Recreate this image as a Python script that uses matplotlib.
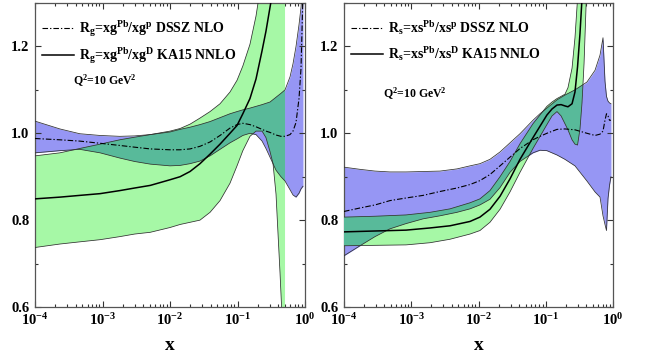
import numpy as np
import matplotlib
matplotlib.use("Agg")
import matplotlib.pyplot as plt
from matplotlib.lines import Line2D
from matplotlib.ticker import LogLocator, MultipleLocator, FormatStrFormatter, FuncFormatter, NullFormatter

# ---- gluon ratio, DSSZ NLO (blue band + dash-dot central) ----
xg_dssz = [1e-4, 2.34e-4, 4.6e-4, 9.2e-4, 1.8e-3, 3.0e-3, 5.1e-3, 0.01, 0.0141, 0.0198,
           0.0278, 0.0392, 0.0551, 0.0774, 0.0984, 0.12, 0.153, 0.188, 0.231, 0.264,
           0.303, 0.372, 0.44, 0.506, 0.6, 0.664, 0.736, 0.815, 0.873, 0.933]
rg_dssz_hi = [1.028, 1.010, 0.999, 0.995, 0.993, 0.994, 0.997, 1.003, 1.009, 1.014,
              1.020, 1.027, 1.036, 1.045, 1.050, 1.054, 1.058, 1.062, 1.066, 1.069,
              1.072, 1.083, 1.092, 1.100, 1.130, 1.160, 1.200, 1.250, 1.290, 1.360]
rg_dssz_lo = [0.955, 0.960, 0.963, 0.955, 0.943, 0.935, 0.929, 0.925, 0.926, 0.930,
              0.936, 0.948, 0.963, 0.978, 0.987, 0.995, 1.000, 0.997, 0.982, 0.965,
              0.945, 0.915, 0.900, 0.890, 0.870, 0.858, 0.853, 0.862, 0.872, 0.878]
rg_dssz = [0.988, 0.985, 0.982, 0.977, 0.972, 0.968, 0.964, 0.962, 0.962, 0.964,
           0.970, 0.980, 0.995, 1.012, 1.020, 1.023, 1.020, 1.015, 1.009, 1.005,
           1.002, 0.996, 0.993, 0.993, 0.997, 1.005, 1.025, 1.080, 1.150, 1.320]

# ---- gluon ratio, KA15 NNLO (green band + solid central) ----
xg_ka15 = [1e-4, 2.34e-4, 4.6e-4, 9.2e-4, 1.8e-3, 3.0e-3, 5.1e-3, 0.01, 0.0141, 0.0198,
           0.0278, 0.0392, 0.0551, 0.0774, 0.0984, 0.12, 0.153, 0.188, 0.231, 0.264,
           0.303, 0.336, 0.372, 0.398, 0.426, 0.456, 0.506]
rg_ka15_hi = [0.948, 0.955, 0.965, 0.975, 0.985, 0.991, 0.997, 1.005, 1.011, 1.021,
              1.035, 1.050, 1.068, 1.095, 1.122, 1.155, 1.205, 1.270, 1.360, 1.420,
              1.500, 1.550, 1.600, 1.650, 1.700, 1.750, 1.800]
rg_ka15_lo = [0.737, 0.745, 0.750, 0.755, 0.762, 0.768, 0.772, 0.783, 0.790, 0.795,
              0.800, 0.818, 0.845, 0.885, 0.925, 0.960, 0.993, 1.005, 1.005, 0.990,
              0.958, 0.930, 0.860, 0.770, 0.680, 0.580, 0.450]
rg_ka15 = [0.849, 0.853, 0.857, 0.861, 0.868, 0.874, 0.880, 0.893, 0.900, 0.912,
           0.930, 0.952, 0.975, 1.000, 1.018, 1.045, 1.080, 1.125, 1.190, 1.235,
           1.290, 1.330, 1.380, 1.420, 1.460, 1.500, 1.550]

# ---- strange ratio, DSSZ NLO ----
xs_dssz = [1e-4, 1.73e-4, 2.89e-4, 4.83e-4, 8.36e-4, 1.5e-3, 2.68e-3, 4.79e-3, 7.48e-3, 0.0105,
           0.0148, 0.0209, 0.0294, 0.0414, 0.0646, 0.082, 0.104, 0.147, 0.193, 0.272,
           0.41, 0.54, 0.641, 0.71, 0.76, 0.80, 0.843, 0.887, 0.933]
rs_dssz_hi = [0.922, 0.917, 0.913, 0.911, 0.911, 0.912, 0.913, 0.918, 0.925, 0.930,
              0.940, 0.957, 0.978, 0.999, 1.030, 1.045, 1.058, 1.077, 1.088, 1.100,
              1.118, 1.145, 1.180, 1.220, 1.120, 1.085, 1.074, 1.070, 1.068]
rs_dssz_lo = [0.718, 0.741, 0.762, 0.780, 0.792, 0.803, 0.810, 0.818, 0.826, 0.835,
              0.848, 0.875, 0.910, 0.935, 0.955, 0.961, 0.960, 0.950, 0.940, 0.925,
              0.890, 0.865, 0.853, 0.810, 0.790, 0.776, 0.850, 0.880, 0.900]
rs_dssz = [0.820, 0.828, 0.835, 0.845, 0.851, 0.857, 0.866, 0.874, 0.882, 0.891,
           0.905, 0.925, 0.945, 0.965, 0.985, 0.993, 1.000, 1.009, 1.010, 1.008,
           1.000, 0.995, 0.998, 1.005, 1.030, 1.045, 1.040, 1.030, 1.030]

# ---- strange ratio, KA15 NNLO ----
xs_ka15 = [1e-4, 2.89e-4, 8.36e-4, 1.9e-3, 3.77e-3, 7.48e-3, 0.0105, 0.0148, 0.0209, 0.0294,
           0.0414, 0.0646, 0.104, 0.124, 0.147, 0.169, 0.193, 0.214, 0.246, 0.272,
           0.297, 0.323, 0.346, 0.371, 0.397, 0.455]
rs_ka15_hi = [0.807, 0.809, 0.812, 0.818, 0.826, 0.840, 0.849, 0.868, 0.900, 0.935,
              0.976, 1.022, 1.062, 1.072, 1.080, 1.085, 1.090, 1.105, 1.150, 1.220,
              1.310, 1.400, 1.500, 1.600, 1.700, 1.900]
rs_ka15_lo = [0.741, 0.742, 0.743, 0.748, 0.756, 0.768, 0.776, 0.795, 0.825, 0.865,
              0.910, 0.965, 1.020, 1.040, 1.050, 1.040, 1.022, 1.008, 0.985, 0.975,
              0.973, 1.010, 1.070, 1.160, 1.290, 1.600]
rs_ka15 = [0.773, 0.775, 0.777, 0.782, 0.787, 0.797, 0.807, 0.825, 0.855, 0.895,
           0.940, 0.990, 1.042, 1.056, 1.065, 1.066, 1.063, 1.061, 1.068, 1.095,
           1.153, 1.230, 1.310, 1.400, 1.500, 1.700]

dec_ticks = [1e-4, 1e-3, 1e-2, 1e-1, 1e0]
y_ticks = [0.6, 0.8, 1.0, 1.2]

labels_g = [r'R$_\mathrm{g}$=xg$^\mathrm{Pb}$/xg$^\mathrm{p}$ DSSZ NLO',
            r'R$_\mathrm{g}$=xg$^\mathrm{Pb}$/xg$^\mathrm{D}$ KA15 NNLO']
labels_s = [r'R$_\mathrm{s}$=xs$^\mathrm{Pb}$/xs$^\mathrm{p}$ DSSZ NLO',
            r'R$_\mathrm{s}$=xs$^\mathrm{Pb}$/xs$^\mathrm{D}$ KA15 NNLO']
q2_label = r'Q$^\mathrm{2}$=10 GeV$^\mathrm{2}$'

BLUE = '#9696f4'
GREEN = '#a6f8a6'
TEAL = '#58ba9a'
EDGE = '#2f2f2f'

plt.rcParams['font.family'] = ['Liberation Serif', 'DejaVu Serif']
plt.rcParams['font.weight'] = 'bold'
plt.rcParams['mathtext.fontset'] = 'custom'
plt.rcParams['mathtext.rm'] = 'Liberation Serif:bold'
plt.rcParams['mathtext.it'] = 'Liberation Serif:bold'
plt.rcParams['mathtext.bf'] = 'Liberation Serif:bold'
plt.rcParams['mathtext.default'] = 'rm'


def decade_label(v, pos):
    return r'$\mathrm{10^{%d}}$' % int(round(np.log10(v)))


def draw_panel(ax, xa, a_hi, a_lo, a_mid, xb, b_hi, b_lo, b_mid, labels, q2_pos):
    blue = ax.fill_between(xa, a_lo, a_hi, color=BLUE, lw=0, zorder=1)
    ax.fill_between(xb, b_lo, b_hi, color=GREEN, lw=0, zorder=2)
    # overlap of the two bands: green band redrawn in teal, clipped to the blue band
    teal = ax.fill_between(xb, b_lo, b_hi, color=TEAL, lw=0, zorder=3)
    teal.set_clip_path(blue.get_paths()[0], ax.transData)

    for xs, ys in ((xa, a_hi), (xa, a_lo), (xb, b_hi), (xb, b_lo)):
        ax.plot(xs, ys, color=EDGE, lw=0.55, zorder=4)

    ax.plot(xa, a_mid, color='black', lw=0.8, dashes=(5, 1.8, 1.2, 1.8), zorder=5)
    ax.plot(xb, b_mid, color='black', lw=1.1, zorder=5)

    ax.set_xscale('log')
    ax.set_xlim(1e-4, 1.0)
    ax.set_ylim(0.6, 1.3)
    ax.set_xticks(dec_ticks)
    ax.xaxis.set_major_formatter(FuncFormatter(decade_label))
    ax.xaxis.set_minor_locator(LogLocator(base=10, subs=np.arange(2, 10)))
    ax.xaxis.set_minor_formatter(NullFormatter())
    ax.set_yticks(y_ticks)
    ax.yaxis.set_major_formatter(FormatStrFormatter('%.1f'))
    ax.yaxis.set_minor_locator(MultipleLocator(0.1))
    ax.tick_params(which='both', direction='in', top=True, right=True,
                   labelsize=10.5, width=0.8, color='#333333')
    ax.tick_params(which='major', length=4.5, pad=4)
    ax.tick_params(which='minor', length=2.5)
    for s in ax.spines.values():
        s.set_linewidth(0.9)
        s.set_color('#555555')

    ax.set_xlabel('x', fontsize=14, fontweight='bold', labelpad=6)

    handles = [Line2D([], [], color='black', lw=0.8, dashes=(5, 1.8, 1.2, 1.8)),
               Line2D([], [], color='black', lw=1.1)]
    ax.legend(handles, labels, loc='upper left', bbox_to_anchor=(-0.005, 0.975),
              frameon=False, fontsize=10, handlelength=2.3, handletextpad=0.35,
              labelspacing=0.55, borderaxespad=0.2)
    ax.text(q2_pos[0], q2_pos[1], q2_label, transform=ax.transAxes,
            fontsize=8.5, ha='left', va='center')


fig = plt.figure(figsize=(6.51, 3.56), dpi=100)
ax1 = fig.add_axes([35 / 651, 49 / 356, 270 / 651, 304 / 356])
ax2 = fig.add_axes([344 / 651, 49 / 356, 269 / 651, 304 / 356])

draw_panel(ax1, xg_dssz, rg_dssz_hi, rg_dssz_lo, rg_dssz,
           xg_ka15, rg_ka15_hi, rg_ka15_lo, rg_ka15, labels_g, (0.14, 0.745))
draw_panel(ax2, xs_dssz, rs_dssz_hi, rs_dssz_lo, rs_dssz,
           xs_ka15, rs_ka15_hi, rs_ka15_lo, rs_ka15, labels_s, (0.145, 0.70))

fig.savefig('out.png', dpi=100)
